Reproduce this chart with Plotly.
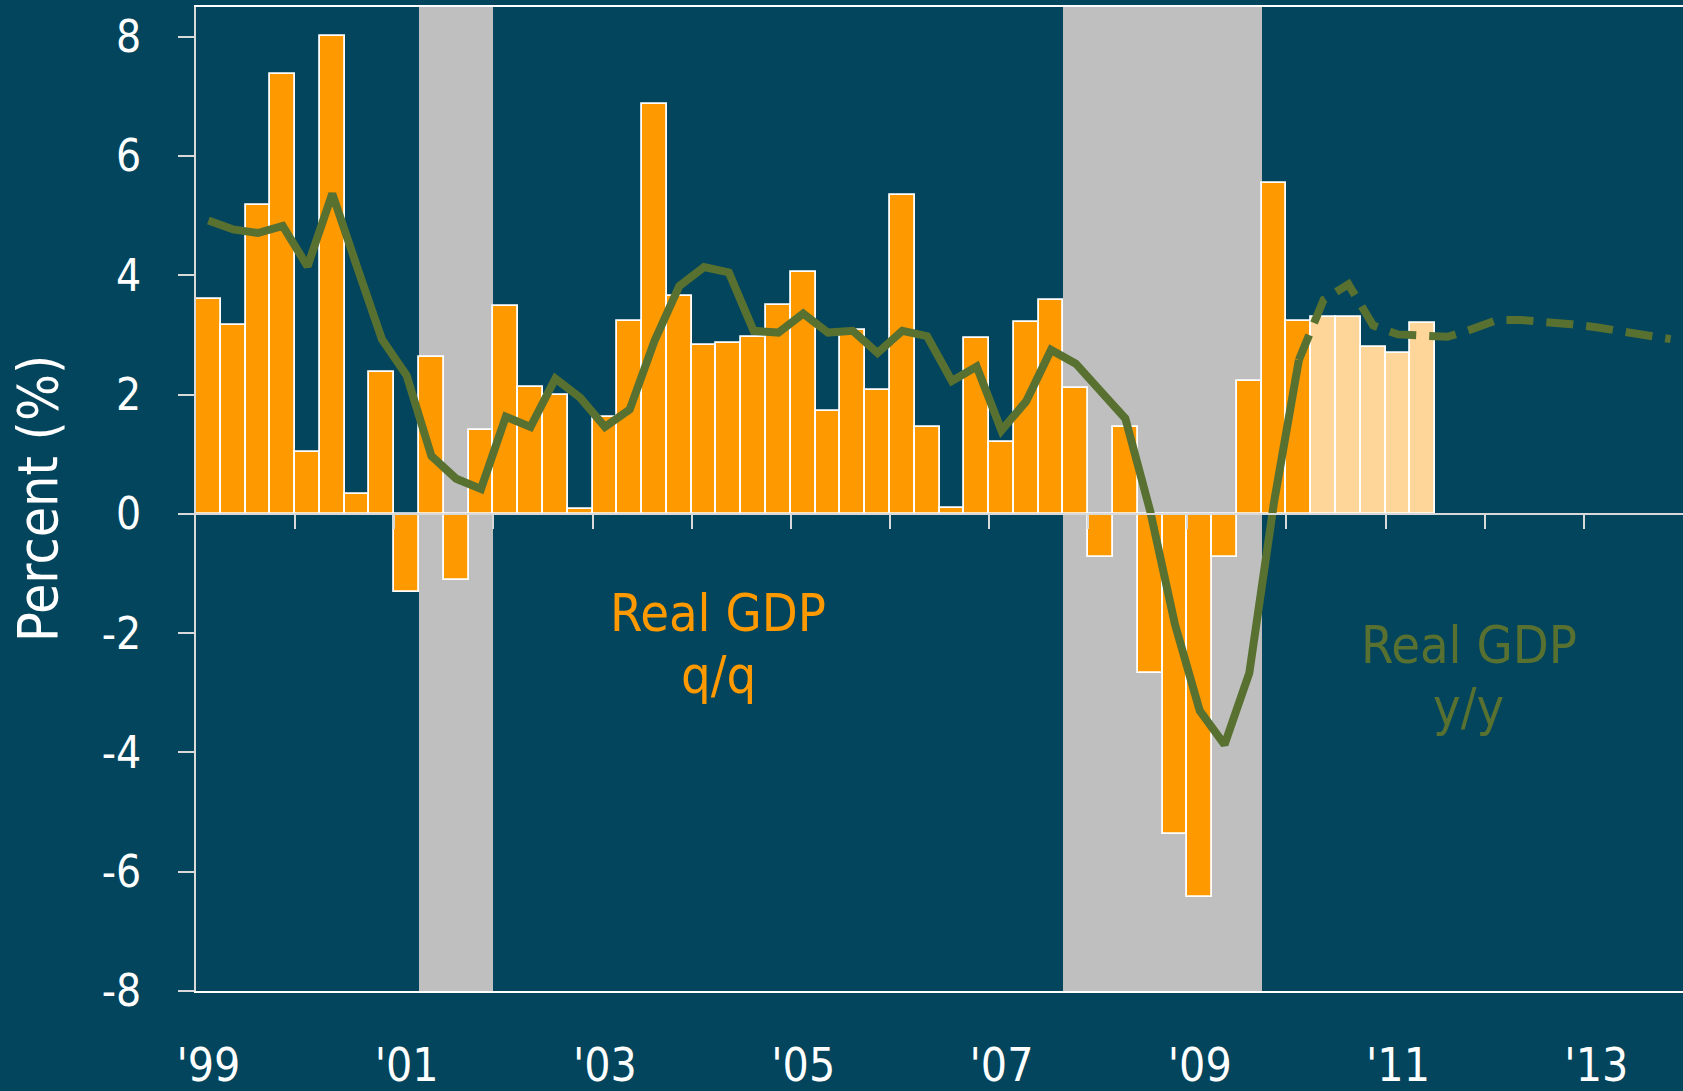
import plotly.graph_objects as go

# ── Colours / fonts ───────────────────────────────────────────────────────────
BG = "#02455C"
ORANGE = "#FF9900"
PEACH = "#FFD699"
GREEN = "#587131"
SHADE = "#BFBFBF"
AXIS = "#D9D9D9"
FONT = "DejaVu Sans Condensed, DejaVu Sans, sans-serif"

# ── Data (quarterly, 1999Q1 .. 2013Q4) ────────────────────────────────────────
years = list(range(1999, 2014))
quarters = [f"{y}Q{q}" for y in years for q in range(1, 5)]

# Real GDP q/q saar, actual 1999Q1-2010Q1
gdp_qq_actual = [
    3.60, 3.16, 5.18, 7.37,
    1.04, 8.02, 0.33, 2.38,
    -1.31, 2.63, -1.10, 1.41,
    3.48, 2.13, 2.00, 0.09,
    1.63, 3.23, 6.87, 3.65,
    2.84, 2.87, 2.97, 3.51,
    4.05, 1.72, 3.08, 2.08,
    5.34, 1.46, 0.10, 2.95,
    1.20, 3.21, 3.59, 2.11,
    -0.73, 1.46, -2.67, -5.36,
    -6.42, -0.73, 2.23, 5.55,
    3.23,
]
# forecast 2010Q2-2011Q2
gdp_qq_forecast = [3.30, 3.30, 2.80, 2.70, 3.20]

# Real GDP y/y, actual 1999Q1-2010Q1
gdp_yy_actual = [
    4.92, 4.77, 4.71, 4.83,
    4.15, 5.37, 4.14, 2.93,
    2.32, 0.97, 0.59, 0.42,
    1.63, 1.46, 2.27, 1.95,
    1.46, 1.75, 2.90, 3.82,
    4.14, 4.05, 3.07, 3.04,
    3.36, 3.04, 3.07, 2.70,
    3.07, 2.98, 2.23, 2.47,
    1.40, 1.89, 2.75, 2.52,
    2.06, 1.60, 0.05, -1.85,
    -3.30, -3.87, -2.67, 0.20,
    2.58,
]
# forecast 2010Q1 (joins actual) - 2013Q4
gdp_yy_forecast = [
    2.58, 3.59, 3.85, 3.16,
    3.01, 2.98, 2.97, 3.10,
    3.25, 3.25, 3.23, 3.18,
    3.13, 3.07, 3.01, 2.93,
]

recession_quarters = [
    "2001Q2", "2001Q3", "2001Q4",
    "2007Q4", "2008Q1", "2008Q2", "2008Q3", "2008Q4",
    "2009Q1", "2009Q2", "2009Q3",
]

label_years = [1999, 2001, 2003, 2005, 2007, 2009, 2011, 2013]
label_text = ["'99", "'01", "'03", "'05", "'07", "'09", "'11", "'13"]
y_ticks = [-8, -6, -4, -2, 0, 2, 4, 6, 8]
y_tick_text = ["-8", "-6", "-4", "-2", "0", "2", "4", "6", "8"]

Y_MIN, Y_MAX = -8, 8.5


def qx(label):
    """Quarter label -> bar-centre position on a year scale."""
    y, q = label.split("Q")
    return int(y) + (int(q) - 0.5) / 4


x_all = [qx(q) for q in quarters]
n_act = len(gdp_qq_actual)
x_qq_act = x_all[:n_act]
x_qq_fc = x_all[n_act:n_act + len(gdp_qq_forecast)]
x_yy_act = x_all[:len(gdp_yy_actual)]
x_yy_fc = x_all[len(gdp_yy_actual) - 1:]
x_rec = [qx(q) for q in recession_quarters]

fig = go.Figure()

# recession shading
fig.add_trace(go.Bar(
    x=x_rec, y=[Y_MAX - Y_MIN] * len(x_rec), base=Y_MIN, width=0.25,
    marker=dict(color=SHADE, line=dict(width=0)), hoverinfo="skip",
))

# q/q bars
fig.add_trace(go.Bar(
    x=x_qq_act, y=gdp_qq_actual, width=0.25,
    marker=dict(color=ORANGE, line=dict(color="white", width=1.8)),
))
fig.add_trace(go.Bar(
    x=x_qq_fc, y=gdp_qq_forecast, width=0.25,
    marker=dict(color=PEACH, line=dict(color="white", width=1.8)),
))

# y/y line
fig.add_trace(go.Scatter(
    x=x_yy_act, y=gdp_yy_actual, mode="lines",
    line=dict(color=GREEN, width=8),
))
fig.add_trace(go.Scatter(
    x=x_yy_fc, y=gdp_yy_forecast, mode="lines",
    line=dict(color=GREEN, width=8, dash="27px,13px"),
))

# empty trace so the zero-line axis (x2) gets drawn
fig.add_trace(go.Scatter(x=[], y=[], xaxis="x2", yaxis="y", showlegend=False))

# ── Labels ────────────────────────────────────────────────────────────────────
fig.add_annotation(x=2004.27, y=-1.66, xref="x", yref="y", text="Real GDP",
                   showarrow=False, font=dict(size=52, color=ORANGE))
fig.add_annotation(x=2004.27, y=-2.70, xref="x", yref="y", text="q/q",
                   showarrow=False, font=dict(size=52, color=ORANGE))
fig.add_annotation(x=2011.84, y=-2.20, xref="x", yref="y", text="Real GDP",
                   showarrow=False, font=dict(size=52, color=GREEN))
fig.add_annotation(x=2011.84, y=-3.24, xref="x", yref="y", text="y/y",
                   showarrow=False, font=dict(size=52, color=GREEN))
fig.add_annotation(x=0, y=0.5, xref="paper", yref="paper", text="Percent (%)",
                   textangle=-90, xanchor="center", yanchor="middle", xshift=-158,
                   showarrow=False, font=dict(size=55, color="white"))

fig.update_layout(
    width=1683, height=1091,
    paper_bgcolor=BG, plot_bgcolor=BG,
    margin=dict(l=196, r=0, t=7, b=100, autoexpand=False),
    barmode="overlay", bargap=0, showlegend=False,
    font=dict(family=FONT, color="white"),
    xaxis=dict(
        range=[1999, 2014],
        tickvals=[y + 0.125 for y in label_years], ticktext=label_text,
        ticks="", showline=True, linecolor="white", linewidth=2, mirror=True,
        showgrid=False, zeroline=False, automargin=False,
        tickfont=dict(size=46, color="white"), ticklabelstandoff=33,
    ),
    xaxis2=dict(
        overlaying="x", anchor="free", position=(0 - Y_MIN) / (Y_MAX - Y_MIN),
        range=[1999, 2014], tickvals=years[1:],
        ticks="outside", ticklen=14, tickwidth=2, tickcolor=AXIS,
        showticklabels=False, showline=True, linecolor=AXIS, linewidth=2,
        showgrid=False, zeroline=False,
    ),
    yaxis=dict(
        range=[Y_MIN, Y_MAX], tickvals=y_ticks, ticktext=y_tick_text,
        ticks="outside", ticklen=16, tickwidth=2, tickcolor=AXIS,
        showline=True, linecolor=AXIS, linewidth=2,
        showgrid=False, zeroline=False, automargin=False,
        tickfont=dict(size=44, color="white"), ticklabelstandoff=28,
    ),
)

fig.write_html("out.html", config={"displayModeBar": False},
               post_script="document.body.style.margin='0';")
